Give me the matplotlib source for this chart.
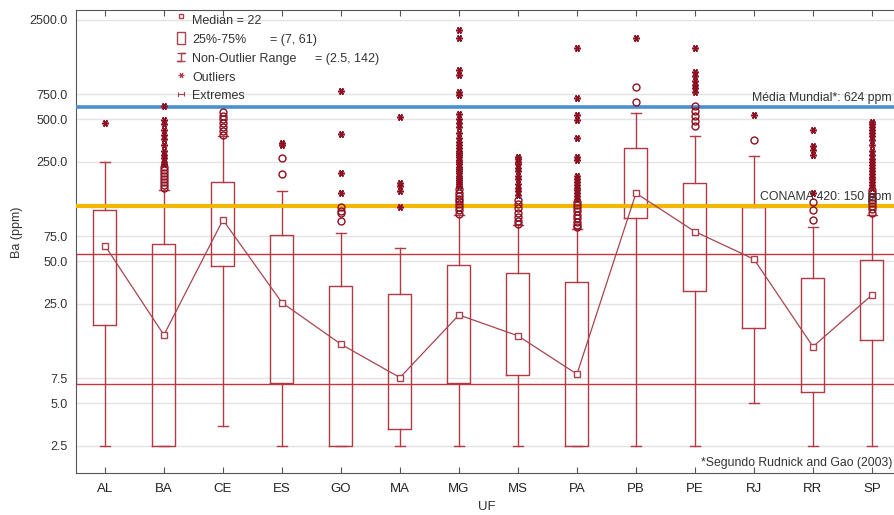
import numpy as np
import matplotlib.pyplot as plt
from matplotlib.patches import Rectangle
from matplotlib.ticker import FixedLocator, FixedFormatter, NullLocator

plt.rcParams['font.family'] = ['Liberation Sans', 'DejaVu Sans']

# Box statistics per UF (Ba, ppm)
uf = ["AL", "BA", "CE", "ES", "GO", "MA", "MG", "MS", "PA", "PB", "PE", "RJ", "RR", "SP"]
q1 = [17.8, 2.5, 46.5, 6.94, 2.5, 3.28, 6.91, 7.9, 2.5, 100.3, 31.0, 16.9, 5.97, 13.9]
q3 = [114.8, 66.0, 181.0, 76.5, 33.6, 29.4, 47.1, 41.1, 35.5, 312.0, 179.0, 121.0, 38.3, 51.0]
median = [64.4, 15.1, 97.6, 25.5, 13.0, 7.57, 20.9, 14.9, 8.0, 150.5, 80.7, 51.6, 12.5, 28.9]
whisk_lo = [2.5, 2.5, 3.47, 2.5, 2.5, 2.5, 2.5, 2.5, 2.5, 2.5, 2.5, 5.0, 2.5, 2.5]
whisk_hi = [250, 159, 383, 157, 78.7, 61.7, 106, 90, 84.3, 551, 381, 277, 87.6, 106]

# circles
outliers = [
    [],
    [165, 172, 180, 190, 200, 210, 220, 230],
    [390, 410, 440, 470, 500, 530, 560],
    [206, 267],
    [96.5, 109, 113.5, 121],
    [],
    [108, 114, 120, 126, 132, 138, 145, 152, 160],
    [92, 96, 102, 110, 118, 126, 135],
    [87, 90, 95, 100, 106, 112, 118, 124, 130],
    [665, 839],
    [450, 485, 525, 570, 620],
    [357],
    [98, 115, 130],
    [110, 116, 122, 128, 135, 142, 150, 158],
]
# stars
extremes = [
    [471],
    [240, 250, 265, 280, 300, 330, 360, 390, 420, 460, 490, 620],
    [],
    [330, 340],
    [152, 208, 392, 790],
    [120, 157, 168, 178, 521],
    [168, 174, 180, 186, 193, 200, 208, 215, 222, 230, 240, 250, 260, 270, 280,
     290, 300, 315, 330, 345, 370, 400, 440, 470, 500, 540, 740, 780, 1030,
     1110, 1870, 2130],
    [146, 155, 165, 176, 188, 200, 215, 228, 240, 250, 262, 272],
    [137, 143, 150, 158, 165, 172, 180, 190, 200, 258, 272, 367, 494, 536,
     700, 1590],
    [1858],
    [780, 830, 871, 930, 1000, 1080, 1590],
    [535],
    [150, 280, 304, 325, 420],
    [165, 172, 180, 188, 196, 205, 215, 226, 238, 250, 262, 280, 300, 330,
     355, 380, 400, 420, 440, 460, 480],
]

# overall box (all samples) and reference lines
all_q1, all_q3 = 6.85, 56.5
media_mundial = 610
conama_420 = 122

yticks = [2.5, 5.0, 7.5, 25.0, 50.0, 75.0, 250.0, 500.0, 750.0, 2500.0]

box_col = '#b13a46'
pt_col = '#8e1020'

fig = plt.figure(figsize=(8.95, 5.15), dpi=100)
W, H = 895, 515
ax = fig.add_axes([76 / W, 1 - 473 / H, 819 / W, 463 / H])
ax.set_yscale('log')
ax.set_ylim(1.61, 2938)
ax.set_xlim(-0.49, 13.39)

x = np.arange(len(uf))

for yt in yticks:
    ax.axhline(yt, color='#e3e3e3', lw=1.0, zorder=0)

# overall box
ax.add_patch(Rectangle((-0.49, all_q1), 20, all_q3 - all_q1, fill=False,
                       edgecolor='#c8343e', lw=1.0, zorder=1))

stats = [dict(med=m, q1=a, q3=b, whislo=lo, whishi=hi, label=l)
         for m, a, b, lo, hi, l in zip(median, q1, q3, whisk_lo, whisk_hi, uf)]
ax.bxp(stats, positions=x, widths=0.39, showfliers=False, capwidths=0.18,
       boxprops=dict(color=box_col, lw=1.0),
       whiskerprops=dict(color=box_col, lw=1.0),
       capprops=dict(color=box_col, lw=1.0),
       medianprops=dict(lw=0), zorder=2)

ax.axhline(media_mundial, color='#4a8fd0', lw=2.6, zorder=3)
ax.axhline(conama_420, color='#f2b705', lw=3.0, zorder=3)

ax.plot(x, median, '-', color='#a8434f', lw=0.9, marker='s', ms=5,
        mfc='white', mec='#a8434f', mew=1.0, zorder=4)

for i in range(len(uf)):
    if outliers[i]:
        ax.plot([i] * len(outliers[i]), outliers[i], 'o', ms=5, mfc='none',
                mec=pt_col, mew=1.0, zorder=5)
    if extremes[i]:
        ax.plot([i] * len(extremes[i]), extremes[i], ls='none',
                marker=(6, 2, 90), ms=5, color=pt_col, mew=1.1, zorder=5)

ax.yaxis.set_major_locator(FixedLocator(yticks))
ax.yaxis.set_major_formatter(FixedFormatter(['%.1f' % v for v in yticks]))
ax.yaxis.set_minor_locator(NullLocator())
ax.set_xticks(x)
ax.set_xticklabels(uf)
ax.tick_params(axis='y', length=0, labelsize=9, colors='#333333', pad=6)
ax.tick_params(axis='x', length=4, labelsize=9.5, colors='#555555',
               labelcolor='#222222', top=True, direction='in', pad=7)
for s in ['left', 'bottom', 'top']:
    ax.spines[s].set_color('#555555')
ax.spines['right'].set_visible(False)

# labels, legend and notes in pixel coords
ov = fig.add_axes([0, 0, 1, 1])
ov.set_xlim(0, W)
ov.set_ylim(H, 0)
ov.axis('off')

ov.text(17, 232, 'Ba (ppm)', rotation=90, ha='center', va='center',
        fontsize=9, color='#333333')
ov.text(487, 507, 'UF', ha='center', va='center', fontsize=9.5, color='#333333')

lg = '#a8434f'
ov.plot(181, 16, 's', ms=3, mfc='white', mec=lg, mew=1)
ov.plot(181, 38, marker=[(-0.6, -1), (0.6, -1), (0.6, 1), (-0.6, 1), (-0.6, -1)],
        ms=9, mfc='white', mec=lg, mew=1)
ov.plot(181, 57, marker=[(-1, 1), (1, 1), (0, 1), (0, -1), (-1, -1), (1, -1)],
        ms=6, color=lg, mew=1, fillstyle='none')
ov.plot(181, 75, marker=(6, 2, 90), ms=4, color=lg, mew=0.8)
ov.plot(181, 94, marker=[(-1, 0.7), (-1, -0.7), (-1, 0), (1, 0), (1, 0.7), (1, -0.7)],
        ms=5, color=lg, mew=0.8, fillstyle='none')
lt = dict(fontsize=9, color='#333333', va='center')
ov.text(192, 21, 'Median = 22', **lt)
ov.text(192, 40, '25%-75%', **lt)
ov.text(270, 40, '= (7, 61)', **lt)
ov.text(192, 59, 'Non-Outlier Range', **lt)
ov.text(315, 59, '= (2.5, 142)', **lt)
ov.text(192, 78, 'Outliers', **lt)
ov.text(192, 96, 'Extremes', **lt)

nt = dict(fontsize=8.8, color='#333333', va='center', ha='right')
ov.text(892, 98, 'Média Mundial*: 624 ppm', **nt)
ov.text(892, 197, 'CONAMA 420: 150 ppm', **nt)
ov.text(892, 463, '*Segundo Rudnick and Gao (2003)', **nt)

fig.savefig('out.png', dpi=100)
